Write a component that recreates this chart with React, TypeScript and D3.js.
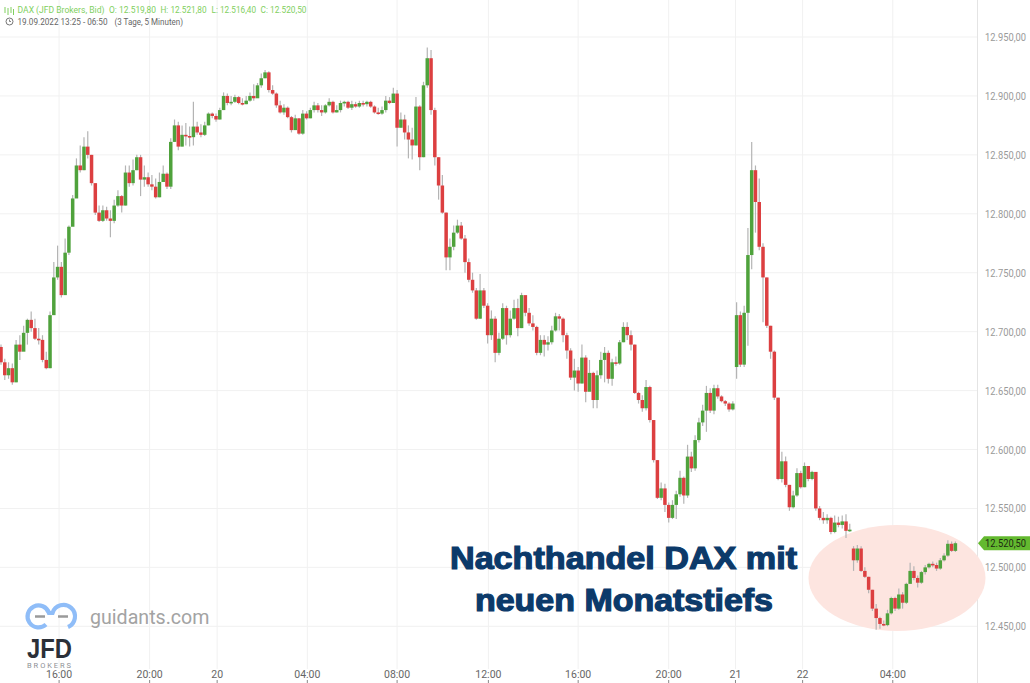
import React from "react";
import * as d3 from "d3";

const closes = [
12674,12663,12669,12657,12689,12683,12699,12710,12703,12694,
12693,12676,12669,12714,12746,12755,12731,12767,12789,12813,
12841,12837,12857,12850,12826,12801,12794,12803,12796,12794,
12807,12815,12807,12835,12826,12837,12848,12829,12831,12825,
12823,12814,12827,12834,12823,12861,12875,12857,12867,12866,
12865,12874,12869,12867,12875,12885,12883,12880,12888,12900,
12894,12895,12899,12894,12893,12896,12900,12898,12909,12915,
12920,12905,12902,12892,12886,12890,12882,12871,12881,12868,
12885,12881,12888,12892,12888,12886,12892,12895,12886,12888,
12894,12895,12890,12893,12891,12894,12893,12895,12891,12886,
12885,12888,12896,12894,12902,12873,12880,12869,12863,12858,
12891,12848,12909,12932,12888,12848,12824,12801,12763,12772,
12784,12790,12779,12759,12744,12735,12711,12735,12722,12697,
12711,12682,12694,12720,12697,12711,12720,12703,12731,12716,
12707,12704,12682,12693,12689,12691,12701,12713,12711,12697,
12684,12661,12667,12656,12678,12649,12665,12642,12663,12676,
12682,12660,12674,12673,12691,12704,12697,12689,12648,12642,
12635,12653,12625,12591,12559,12567,12553,12542,12553,12562,
12576,12561,12594,12584,12608,12623,12633,12648,12633,12652,
12645,12641,12639,12634,12639,12714,12672,12716,12765,12837,
12810,12772,12746,12705,12683,12644,12575,12590,12570,12551,
12561,12580,12568,12586,12575,12581,12550,12542,12540,12542,
12530,12538,12536,12539,12531,12532,12506,12516,12497,12492,
12481,12465,12457,12452,12451,12461,12474,12465,12477,12470,
12486,12497,12491,12487,12496,12500,12503,12502,12499,12506,
12510,12520,12514,12520.5];

const highs = [
12689,12677,12674,12673,12693,12697,12705,12711,12717,12711,
12703,12697,12683,12717,12759,12773,12759,12779,12790,12816,
12847,12858,12865,12870,12850,12826,12807,12807,12806,12803,
12812,12820,12816,12841,12841,12846,12850,12850,12841,12835,
12833,12830,12835,12841,12835,12864,12880,12878,12875,12877,
12874,12895,12878,12876,12878,12886,12886,12885,12890,12903,
12902,12900,12901,12900,12898,12900,12903,12910,12911,12919,
12922,12921,12909,12903,12896,12893,12891,12883,12884,12881,
12888,12887,12890,12895,12894,12892,12893,12898,12896,12892,
12896,12896,12896,12896,12895,12896,12896,12896,12896,12892,
12890,12891,12900,12899,12907,12905,12886,12884,12875,12873,
12899,12892,12912,12941,12939,12890,12848,12833,12801,12779,
12790,12795,12793,12782,12762,12750,12737,12749,12737,12724,
12718,12713,12699,12724,12722,12718,12727,12728,12733,12729,
12720,12714,12705,12697,12697,12696,12705,12716,12715,12712,
12699,12686,12677,12670,12689,12680,12676,12666,12667,12683,
12687,12684,12677,12679,12693,12708,12708,12701,12689,12649,
12646,12659,12654,12625,12591,12572,12571,12555,12557,12565,
12582,12577,12604,12598,12612,12627,12638,12654,12652,12655,
12655,12646,12642,12640,12641,12725,12717,12722,12788,12861,
12841,12830,12775,12746,12705,12684,12644,12598,12594,12570,
12565,12584,12582,12589,12586,12582,12581,12552,12547,12545,
12543,12544,12543,12544,12545,12537,12518,12519,12518,12500,
12492,12481,12469,12458,12455,12464,12475,12475,12482,12479,
12487,12504,12501,12493,12497,12502,12504,12505,12504,12508,
12512,12523,12522,12522];

const lows = [
12672,12659,12660,12655,12657,12676,12684,12689,12700,12693,
12689,12674,12668,12669,12727,12744,12729,12748,12765,12793,
12818,12835,12837,12847,12824,12799,12793,12793,12794,12780,
12792,12806,12801,12807,12823,12824,12837,12815,12823,12823,
12820,12813,12814,12827,12821,12821,12861,12854,12857,12858,
12857,12858,12867,12865,12866,12875,12881,12878,12880,12888,
12892,12892,12894,12893,12892,12893,12895,12896,12901,12907,
12915,12903,12901,12890,12885,12884,12881,12869,12871,12867,
12867,12880,12881,12886,12886,12883,12885,12891,12885,12886,
12886,12891,12889,12888,12890,12890,12891,12891,12890,12885,
12884,12884,12886,12893,12896,12857,12873,12863,12847,12846,
12858,12837,12848,12907,12884,12841,12812,12800,12752,12752,
12769,12783,12778,12750,12742,12733,12710,12711,12720,12690,
12693,12674,12680,12693,12689,12695,12710,12696,12703,12713,
12705,12701,12680,12680,12679,12684,12689,12700,12701,12691,
12677,12659,12650,12649,12656,12640,12650,12635,12635,12660,
12657,12656,12654,12671,12672,12691,12693,12684,12647,12639,
12632,12633,12623,12589,12558,12557,12547,12538,12541,12541,
12560,12554,12559,12581,12582,12606,12620,12615,12631,12630,
12643,12640,12637,12632,12633,12660,12670,12670,12688,12753,
12784,12769,12708,12703,12677,12642,12574,12572,12568,12548,
12550,12560,12567,12568,12573,12574,12548,12540,12537,12537,
12528,12529,12534,12533,12525,12530,12497,12504,12496,12491,
12478,12463,12447,12448,12450,12450,12460,12463,12464,12465,
12469,12487,12489,12483,12486,12494,12499,12500,12497,12498,
12505,12509,12513,12513];

// Opens follow the previous close except where the session re-opens with a jump.
const firstOpen = 12687;
const sessionOpens: Record<number, number> = { 195: 12670, 226: 12516 };

const priceTicks = [12450, 12500, 12550, 12600, 12650, 12700, 12750, 12800, 12850, 12900, 12950];
const timeLabels = ["16:00", "20:00", "20", "04:00", "08:00", "12:00", "16:00", "20:00", "21", "22", "04:00"];
const timeCandles = [15.4, 39.4, 57.3, 81.2, 105, 129.2, 153, 177, 194.7, 212.5, 236.4];
const lastPrice = 12520.5;

const WIDTH = 1030;
const HEIGHT = 683;
const de = d3.formatLocale({ decimal: ",", thousands: ".", grouping: [3], currency: ["", "€"] });
const fmt = de.format(",.2f");

export default function App() {
  const x = d3.scaleLinear().domain([0, 253]).range([1, 955.4]);
  const y = d3.scaleLinear().domain([12450, 12950]).range([626.3, 37]);
  const font = "Roboto, sans-serif";
  const candles = closes.map((c, i) => {
    const o = i === 0 ? firstOpen : sessionOpens[i] ?? closes[i - 1];
    return { i, o, c, h: highs[i], l: lows[i] };
  });
  const GREEN = "#4fa23c";
  const RED = "#dc3f40";
  const hdr = "#80cf5e";
  return (
    <svg
      width={WIDTH}
      height={HEIGHT}
      style={{ position: "fixed", left: 0, top: 0, background: "#fff" }}
      fontFamily={font}
    >
      {priceTicks.map((p) => (
        <line key={p} x1={0} x2={978} y1={y(p)} y2={y(p)} stroke="#f1f1f1" />
      ))}
      {timeCandles.map((t, k) => (
        <line key={k} x1={x(t)} x2={x(t)} y1={0} y2={669} stroke="#f1f1f1" />
      ))}
      <line x1={977.5} x2={977.5} y1={0} y2={683} stroke="#e4e4e4" />

      <ellipse cx={897} cy={578} rx={88.5} ry={53} fill="#fde5e0" />

      {candles.map((d) => (
        <line
          key={"w" + d.i}
          x1={x(d.i)}
          x2={x(d.i)}
          y1={y(d.h)}
          y2={y(d.l)}
          stroke="#b4b4b4"
          strokeWidth={1.2}
        />
      ))}
      {candles.map((d) => {
        const top = y(Math.max(d.o, d.c));
        const bot = y(Math.min(d.o, d.c));
        return (
          <rect
            key={"b" + d.i}
            x={x(d.i) - 1.75}
            y={top}
            width={3.5}
            height={Math.max(bot - top, 1.6)}
            fill={d.c >= d.o ? GREEN : RED}
          />
        );
      })}

      {priceTicks.map((p) => (
        <text key={p} x={985} y={y(p) + 4} fontSize={10.5} fill="#9a9a9a" textLength={41} lengthAdjust="spacingAndGlyphs">
          {fmt(p)}
        </text>
      ))}
      {timeCandles.map((t, k) => (
        <g key={k}>
          <text x={x(t)} y={678} fontSize={10.5} fill="#666" textAnchor="middle">
            {timeLabels[k]}
          </text>
          <line x1={x(t)} x2={x(t)} y1={680} y2={683} stroke="#888" />
        </g>
      ))}

      <polygon
        points={`978,${y(lastPrice)} 984,${y(lastPrice) - 7} 1030,${y(lastPrice) - 7} 1030,${y(lastPrice) + 7} 984,${y(lastPrice) + 7}`}
        fill="#63b92f"
      />
      <text x={985} y={y(lastPrice) + 4} fontSize={10.5} fill="#1d2b12" textLength={41} lengthAdjust="spacingAndGlyphs">
        {fmt(lastPrice)}
      </text>

      {/* header */}
      <g stroke={hdr} strokeWidth={1} fill="none">
        <path d="M5 7V13M8 8V15M11 7V13M13.5 9V15" />
      </g>
      <text x={17.5} y={13} fontSize={9} fill={hdr} textLength={87} lengthAdjust="spacingAndGlyphs">
        DAX (JFD Brokers, Bid)
      </text>
      <text x={109} y={13} fontSize={9} fill={hdr} textLength={47} lengthAdjust="spacingAndGlyphs">
        O: 12.519,80
      </text>
      <text x={160.5} y={13} fontSize={9} fill={hdr} textLength={46} lengthAdjust="spacingAndGlyphs">
        H: 12.521,80
      </text>
      <text x={211.5} y={13} fontSize={9} fill={hdr} textLength={44.5} lengthAdjust="spacingAndGlyphs">
        L: 12.516,40
      </text>
      <text x={260.5} y={13} fontSize={9} fill={hdr} textLength={46} lengthAdjust="spacingAndGlyphs">
        C: 12.520,50
      </text>
      <circle cx={9.5} cy={21.5} r={3.5} fill="none" stroke="#666" strokeWidth={0.9} />
      <path d="M9.5 19.5V21.5H11" fill="none" stroke="#666" strokeWidth={0.8} />
      <text x={17.5} y={25} fontSize={9} fill="#666" textLength={90} lengthAdjust="spacingAndGlyphs">
        19.09.2022 13:25 - 06:50
      </text>
      <text x={114.5} y={25} fontSize={9} fill="#666" textLength={68.5} lengthAdjust="spacingAndGlyphs">
        (3 Tage, 5 Minuten)
      </text>

      {/* caption */}
      <g
        fontFamily="'Liberation Sans', Arial, sans-serif"
        fontWeight={700}
        fontSize={30.5}
        fill="#0c3a6a"
        stroke="#0c3a6a"
        strokeWidth={1.2}
      >
        <text x={450} y={569} textLength={347} lengthAdjust="spacingAndGlyphs">
          Nachthandel DAX mit
        </text>
        <text x={475} y={611} textLength={298} lengthAdjust="spacingAndGlyphs">
          neuen Monatstiefs
        </text>
      </g>

      {/* watermark */}
      <path
        d="M46 624.5A11 11 0 1 1 49 613H52.5A11.5 11.5 0 1 1 68 627"
        fill="none"
        stroke="#8fbdf8"
        strokeWidth={4.2}
      />
      <path d="M35 616.5H45M58 616.5H68" stroke="#9a9a9a" strokeWidth={2.6} fill="none" />
      <text x={90} y={624} fontSize={20} fill="#a3a3a3" textLength={119.5} lengthAdjust="spacingAndGlyphs">
        guidants.com
      </text>
      <text x={27} y={658} fontSize={27} fontWeight={700} fill="#2b3038" fontFamily="'Liberation Sans', sans-serif" textLength={45} lengthAdjust="spacingAndGlyphs">
        JFD
      </text>
      <text x={27} y={667.5} fontSize={7.5} fill="#8d8f94" textLength={44}>
        BROKERS
      </text>
    </svg>
  );
}
